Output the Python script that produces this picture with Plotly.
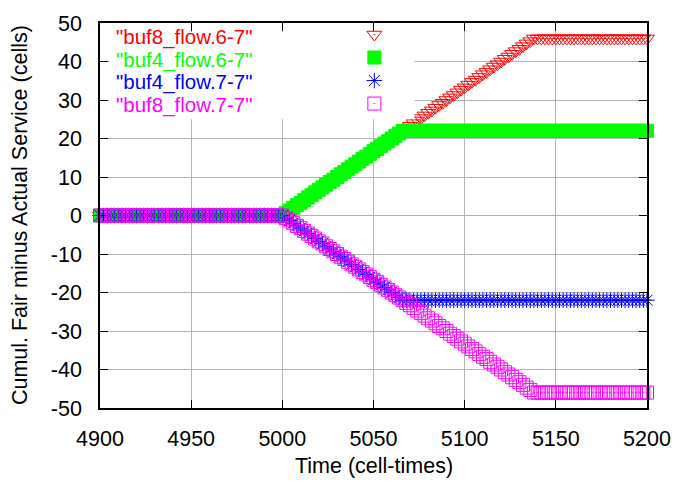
import plotly.graph_objects as go

# ---------------- data ----------------
time = [4900, 4902, 4904, 4906, 4908, 4910, 4912, 4914, 4916, 4918,
        4920, 4922, 4924, 4926, 4928, 4930, 4932, 4934, 4936, 4938,
        4940, 4942, 4944, 4946, 4948, 4950, 4952, 4954, 4956, 4958,
        4960, 4962, 4964, 4966, 4968, 4970, 4972, 4974, 4976, 4978,
        4980, 4982, 4984, 4986, 4988, 4990, 4992, 4994, 4996, 4998,
        5000, 5002, 5004, 5006, 5008, 5010, 5012, 5014, 5016, 5018,
        5020, 5022, 5024, 5026, 5028, 5030, 5032, 5034, 5036, 5038,
        5040, 5042, 5044, 5046, 5048, 5050, 5052, 5054, 5056, 5058,
        5060, 5062, 5064, 5066, 5068, 5070, 5072, 5074, 5076, 5078,
        5080, 5082, 5084, 5086, 5088, 5090, 5092, 5094, 5096, 5098,
        5100, 5102, 5104, 5106, 5108, 5110, 5112, 5114, 5116, 5118,
        5120, 5122, 5124, 5126, 5128, 5130, 5132, 5134, 5136, 5138,
        5140, 5142, 5144, 5146, 5148, 5150, 5152, 5154, 5156, 5158,
        5160, 5162, 5164, 5166, 5168, 5170, 5172, 5174, 5176, 5178,
        5180, 5182, 5184, 5186, 5188, 5190, 5192, 5194, 5196, 5198,
        5200]

buf8_flow_6_7 = [
    0, 0, 0, 0, 0, 0, 0, 0, 0, 0,
    0, 0, 0, 0, 0, 0, 0, 0, 0, 0,
    0, 0, 0, 0, 0, 0, 0, 0, 0, 0,
    0, 0, 0, 0, 0, 0, 0, 0, 0, 0,
    0, 0, 0, 0, 0, 0, 0, 0, 0, 0,
    0, 0.7, 1.3, 2.0, 2.7, 3.3, 4.0, 4.7, 5.3, 6.0,
    6.7, 7.3, 8.0, 8.7, 9.3, 10.0, 10.7, 11.3, 12.0, 12.7,
    13.3, 14.0, 14.7, 15.3, 16.0, 16.7, 17.3, 18.0, 18.7, 19.3,
    20.0, 20.7, 21.3, 22.0, 22.7, 23.3, 24.0, 24.7, 25.3, 26.0,
    26.7, 27.3, 28.0, 28.7, 29.3, 30.0, 30.7, 31.3, 32.0, 32.7,
    33.3, 34.0, 34.7, 35.3, 36.0, 36.7, 37.3, 38.0, 38.7, 39.3,
    40.0, 40.7, 41.3, 42.0, 42.7, 43.3, 44.0, 44.7, 45.3, 46.0,
    46, 46, 46, 46, 46, 46, 46, 46, 46, 46,
    46, 46, 46, 46, 46, 46, 46, 46, 46, 46,
    46, 46, 46, 46, 46, 46, 46, 46, 46, 46,
    46]

buf4_flow_6_7 = [
    0, 0, 0, 0, 0, 0, 0, 0, 0, 0,
    0, 0, 0, 0, 0, 0, 0, 0, 0, 0,
    0, 0, 0, 0, 0, 0, 0, 0, 0, 0,
    0, 0, 0, 0, 0, 0, 0, 0, 0, 0,
    0, 0, 0, 0, 0, 0, 0, 0, 0, 0,
    0, 0.7, 1.3, 2.0, 2.7, 3.3, 4.0, 4.7, 5.3, 6.0,
    6.7, 7.3, 8.0, 8.7, 9.3, 10.0, 10.7, 11.3, 12.0, 12.7,
    13.3, 14.0, 14.7, 15.3, 16.0, 16.7, 17.3, 18.0, 18.7, 19.3,
    20.0, 20.7, 21.3, 22, 22, 22, 22, 22, 22, 22,
    22, 22, 22, 22, 22, 22, 22, 22, 22, 22,
    22, 22, 22, 22, 22, 22, 22, 22, 22, 22,
    22, 22, 22, 22, 22, 22, 22, 22, 22, 22,
    22, 22, 22, 22, 22, 22, 22, 22, 22, 22,
    22, 22, 22, 22, 22, 22, 22, 22, 22, 22,
    22, 22, 22, 22, 22, 22, 22, 22, 22, 22,
    22]

buf4_flow_7_7 = [
    0, 0, 0, 0, 0, 0, 0, 0, 0, 0,
    0, 0, 0, 0, 0, 0, 0, 0, 0, 0,
    0, 0, 0, 0, 0, 0, 0, 0, 0, 0,
    0, 0, 0, 0, 0, 0, 0, 0, 0, 0,
    0, 0, 0, 0, 0, 0, 0, 0, 0, 0,
    0, -0.7, -1.3, -2.0, -2.7, -3.3, -4.0, -4.7, -5.3, -6.0,
    -6.7, -7.3, -8.0, -8.7, -9.3, -10.0, -10.7, -11.3, -12.0, -12.7,
    -13.3, -14.0, -14.7, -15.3, -16.0, -16.7, -17.3, -18.0, -18.7, -19.3,
    -20.0, -20.7, -21.3, -22, -22, -22, -22, -22, -22, -22,
    -22, -22, -22, -22, -22, -22, -22, -22, -22, -22,
    -22, -22, -22, -22, -22, -22, -22, -22, -22, -22,
    -22, -22, -22, -22, -22, -22, -22, -22, -22, -22,
    -22, -22, -22, -22, -22, -22, -22, -22, -22, -22,
    -22, -22, -22, -22, -22, -22, -22, -22, -22, -22,
    -22, -22, -22, -22, -22, -22, -22, -22, -22, -22,
    -22]

buf8_flow_7_7 = [
    0, 0, 0, 0, 0, 0, 0, 0, 0, 0,
    0, 0, 0, 0, 0, 0, 0, 0, 0, 0,
    0, 0, 0, 0, 0, 0, 0, 0, 0, 0,
    0, 0, 0, 0, 0, 0, 0, 0, 0, 0,
    0, 0, 0, 0, 0, 0, 0, 0, 0, 0,
    0, -0.7, -1.3, -2.0, -2.7, -3.3, -4.0, -4.7, -5.3, -6.0,
    -6.7, -7.3, -8.0, -8.7, -9.3, -10.0, -10.7, -11.3, -12.0, -12.7,
    -13.3, -14.0, -14.7, -15.3, -16.0, -16.7, -17.3, -18.0, -18.7, -19.3,
    -20.0, -20.7, -21.3, -22.0, -22.7, -23.3, -24.0, -24.7, -25.3, -26.0,
    -26.7, -27.3, -28.0, -28.7, -29.3, -30.0, -30.7, -31.3, -32.0, -32.7,
    -33.3, -34.0, -34.7, -35.3, -36.0, -36.7, -37.3, -38.0, -38.7, -39.3,
    -40.0, -40.7, -41.3, -42.0, -42.7, -43.3, -44.0, -44.7, -45.3, -46.0,
    -46, -46, -46, -46, -46, -46, -46, -46, -46, -46,
    -46, -46, -46, -46, -46, -46, -46, -46, -46, -46,
    -46, -46, -46, -46, -46, -46, -46, -46, -46, -46,
    -46]

series_names = ['"buf8_flow.6-7"', '"buf4_flow.6-7"', '"buf4_flow.7-7"', '"buf8_flow.7-7"']
series_values = [buf8_flow_6_7, buf4_flow_6_7, buf4_flow_7_7, buf8_flow_7_7]
series_colors = ["#ff0000", "#00ff00", "#0000ff", "#ff00ff"]
series_symbols = ["triangle-down-open-dot", "square", "asterisk-open", "square-open-dot"]

x_ticks = [4900, 4950, 5000, 5050, 5100, 5150, 5200]
x_tick_labels = ["4900", "4950", "5000", "5050", "5100", "5150", "5200"]
y_ticks = [-50, -40, -30, -20, -10, 0, 10, 20, 30, 40, 50]
y_tick_labels = ["-50", "-40", "-30", "-20", "-10", "0", "10", "20", "30", "40", "50"]

FONT = "Liberation Sans, Arial, sans-serif"
FSIZE = 21.5
LSIZE = 20.5
MSIZE = 13

fig = go.Figure()
for name, vals, col, sym in zip(series_names, series_values, series_colors, series_symbols):
    fig.add_trace(go.Scatter(
        x=time, y=vals, mode="markers", name=name, showlegend=False,
        marker=dict(symbol=sym, size=MSIZE, color=col,
                    line=dict(color=col, width=1)),
        cliponaxis=False,
    ))

# legend keys: symbol-only entries of the native legend (drawn above shapes);
# the coloured key texts are annotations to the left (gnuplot style)
leg_y = [0.964, 0.905, 0.847, 0.788]
for name, col, sym, ly in zip(series_names, series_colors, series_symbols, leg_y):
    fig.add_trace(go.Scatter(
        x=[None], y=[None], mode="markers", name="", showlegend=True,
        marker=dict(symbol=sym, size=MSIZE, color=col, line=dict(color=col, width=1)),
        hoverinfo="skip",
    ))
    fig.add_annotation(
        x=0.027, y=ly, xref="paper", yref="paper", text=name, showarrow=False,
        xanchor="left", yanchor="middle", borderpad=0,
        font=dict(family=FONT, size=LSIZE, color=col),
    )

# axis titles
fig.add_annotation(x=0.5, y=-0.151, xref="paper", yref="paper", text="Time (cell-times)",
                   showarrow=False, xanchor="center", yanchor="middle",
                   font=dict(family=FONT, size=FSIZE, color="black"))
fig.add_annotation(x=-0.147, y=0.5, xref="paper", yref="paper",
                   text="Cumul. Fair minus Actual Service (cells)", textangle=-90,
                   showarrow=False, xanchor="center", yanchor="middle",
                   font=dict(family=FONT, size=FSIZE, color="black"))

# white key box hiding the grid (inset so the frame and its ticks stay visible)
fig.add_shape(type="rect", xref="paper", yref="paper", x0=0.017, x1=0.575, y0=0.75, y1=0.977,
              fillcolor="white", line=dict(width=0), layer="above")

axis_common = dict(
    showline=True, linecolor="black", linewidth=1.5, mirror="ticks",
    ticks="inside", ticklen=8, tickwidth=1, tickcolor="black",
    showgrid=True, gridcolor="#b4b4b4", gridwidth=1,
    zeroline=False, ticklabeloverflow="allow",
    tickfont=dict(family=FONT, size=FSIZE, color="black"),
)

fig.update_layout(
    width=683, height=484,
    margin=dict(l=100, r=26, t=17, b=76),
    paper_bgcolor="white", plot_bgcolor="white",
    xaxis=dict(range=[4900, 5200], tickvals=x_ticks, ticktext=x_tick_labels,
               ticklabelstandoff=10, **axis_common),
    yaxis=dict(range=[-50, 50], tickvals=y_ticks, ticktext=y_tick_labels,
               ticklabelstandoff=12, **axis_common),
    showlegend=True,
    legend=dict(x=0.465, y=1.013, xanchor="left", yanchor="top",
                bgcolor="rgba(0,0,0,0)", borderwidth=0, tracegroupgap=0,
                itemsizing="trace", itemwidth=30,
                font=dict(family=FONT, size=15.4, color="black")),
)

fig.write_html("out.html", config={"displayModeBar": False},
               post_script="document.body.style.margin='0px';")
